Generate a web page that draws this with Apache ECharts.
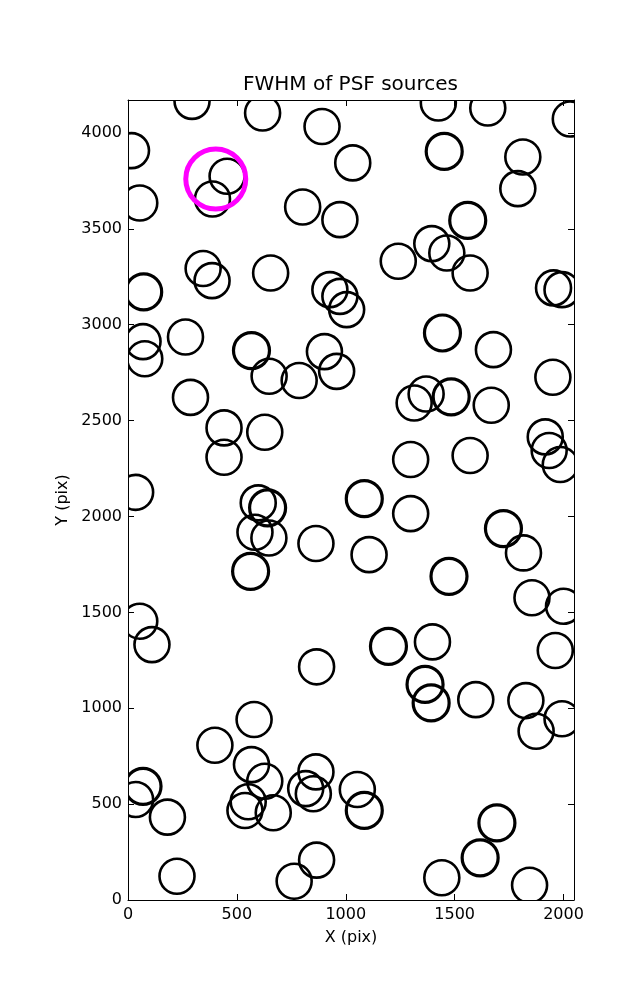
<!DOCTYPE html>
<html>
<head>
<meta charset="utf-8">
<script src="https://cdn.jsdelivr.net/npm/echarts@6/dist/echarts.min.js"></script>
<style>
html,body{margin:0;padding:0;background:#fff;}
#chart{width:637px;height:1000px;}
</style>
</head>
<body>
<div id="chart"></div>
<script>
// Source positions (pixels on the detector)
const srcX = [294,618,891,16,1425,1652,2031,1452,1032,1813,1790,455,388,54,802,973,1560,1395,1464,1241,1571,345,386,655,72,927,973,1004,1954,1993,69,264,77,567,902,1444,1678,648,786,958,1951,287,441,441,628,1314,1369,1484,1668,1916,1934,1985,1298,1571,35,598,641,1085,1298,583,647,863,1724,1816,1107,563,1474,1855,2000,54,110,866,1196,1398,1962,1364,1392,1597,1827,1993,1874,579,399,567,628,863,69,35,181,552,537,667,816,851,1053,1085,1694,1617,225,866,763,1441,1844];
const srcY = [4165,4104,4034,3908,4156,4130,4073,3904,3844,3875,3710,3774,3656,3635,3614,3548,3544,3423,3374,3331,3270,3293,3230,3270,3171,3183,3148,3079,3192,3183,2912,2936,2823,2865,2860,2957,2870,2731,2709,2757,2726,2621,2462,2309,2439,2592,2639,2624,2580,2415,2344,2271,2297,2318,2126,2071,2045,2093,2015,1918,1888,1859,1937,1810,1801,1714,1688,1576,1532,1454,1332,1216,1323,1346,1301,1124,1028,1045,1040,945,880,941,807,706,619,668,593,524,432,512,467,455,581,554,576,467,402,220,124,208,98,116,77];
// 1 = source detected twice (drawn with a heavier ring)
const doubled = [0,0,0,0,0,0,0,1,0,0,0,0,0,0,0,0,1,0,0,0,0,0,0,0,1,0,0,0,0,0,0,0,0,1,0,1,0,0,0,0,0,0,0,0,0,0,0,1,0,0,0,0,0,0,0,0,1,1,0,0,0,0,1,0,0,1,1,0,0,0,0,0,1,0,0,1,1,0,0,0,0,0,0,0,0,0,1,0,0,0,0,0,0,0,0,1,1,1,0,0,0,0,0];
// Highlighted source
const hlX = [403];
const hlY = [3760];
// Axes
const xMax = 2048;
const yMax = 4172;
const xTicks = [0,500,1000,1500,2000];
const yTicks = [0,500,1000,1500,2000,2500,3000,3500,4000];

const FONT = 'DejaVu Sans';
const chart = echarts.init(document.getElementById('chart'), null, {renderer:'canvas'});

const srcData = srcX.map((x,i)=>[x, srcY[i], doubled[i]]);
const hlData = hlX.map((x,i)=>[x, hlY[i]]);
const plain = v => String(v);

function axisCommon(extra){
  return Object.assign({
    type:'value',
    splitLine:{show:false},
    axisLine:{show:true, onZero:false, lineStyle:{color:'#000', width:1}},
  }, extra);
}

const option = {
  backgroundColor:'#fff',
  animation:false,
  title:{
    text:'FWHM of PSF sources',
    left:243, top:75, padding:0,
    textStyle:{fontFamily:FONT, fontSize:20, fontWeight:'normal', color:'#000'}
  },
  grid:{left:128, right:63, top:100, bottom:100, show:false},
  xAxis:[
    axisCommon({min:0, max:xMax, position:'bottom',
      axisTick:{show:true, inside:true, length:6, customValues:xTicks, lineStyle:{color:'#000'}},
      axisLabel:{show:true, customValues:xTicks, formatter:plain, margin:7, fontFamily:FONT, fontSize:16, color:'#000'},
      name:'X (pix)', nameLocation:'middle', nameGap:30,
      nameTextStyle:{fontFamily:FONT, fontSize:16, color:'#000'}
    }),
    axisCommon({min:0, max:xMax, position:'top',
      axisTick:{show:true, inside:true, length:6, customValues:xTicks, lineStyle:{color:'#000'}},
      axisLabel:{show:false}
    })
  ],
  yAxis:[
    axisCommon({min:0, max:yMax, position:'left',
      axisTick:{show:true, inside:true, length:6, customValues:yTicks, lineStyle:{color:'#000'}},
      axisLabel:{show:true, customValues:yTicks, formatter:plain, margin:6, fontFamily:FONT, fontSize:16, color:'#000'},
      name:'Y (pix)', nameLocation:'middle', nameGap:57, nameRotate:90,
      nameTextStyle:{fontFamily:FONT, fontSize:16, color:'#000'}
    }),
    axisCommon({min:0, max:yMax, position:'right',
      axisTick:{show:true, inside:true, length:6, customValues:yTicks, lineStyle:{color:'#000'}},
      axisLabel:{show:false}
    })
  ],
  series:[
    {
      type:'custom', xAxisIndex:0, yAxisIndex:0, clip:true,
      data:srcData,
      renderItem:function(params, api){
        const p = api.coord([api.value(0), api.value(1)]);
        const d = api.value(2);
        return {type:'circle', shape:{cx:p[0], cy:p[1], r: d ? 18 : 17.5},
          style:{fill:'none', stroke:'#000', lineWidth: d ? 3.2 : 2.6}};
      }
    },
    {
      type:'custom', xAxisIndex:0, yAxisIndex:0, clip:true, z:3,
      data:hlData,
      renderItem:function(params, api){
        const p = api.coord([api.value(0), api.value(1)]);
        return {type:'circle', shape:{cx:p[0], cy:p[1], r:30},
          style:{fill:'none', stroke:'#ff00ff', lineWidth:5}};
      }
    }
  ]
};
chart.setOption(option);
</script>
</body>
</html>
